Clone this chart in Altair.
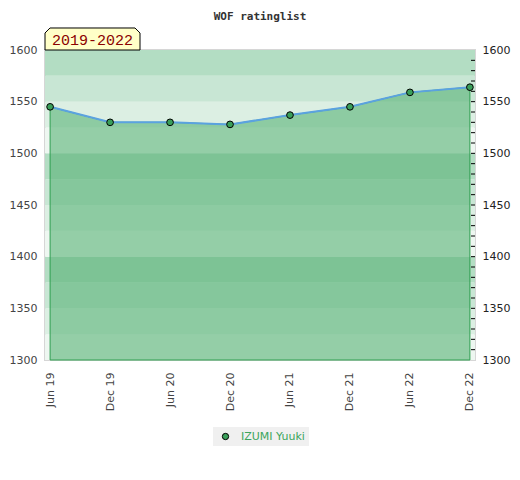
import altair as alt
import pandas as pd

# ---- data ----
periods = ["Jun 19", "Dec 19", "Jun 20", "Dec 20", "Jun 21", "Dec 21", "Jun 22", "Dec 22"]
ratings = [1545, 1530, 1530, 1528, 1537, 1545, 1559, 1564]
player = "IZUMI Yuuki"
title_text = "WOF ratinglist"
span_label = "2019-2022"

band_lo = [1300, 1325, 1350, 1375, 1400, 1425, 1450, 1475, 1500, 1525, 1550, 1575]
band_hi = [1325, 1350, 1375, 1400, 1425, 1450, 1475, 1500, 1525, 1550, 1575, 1600]
band_colors = ["#eef7f1", "#dcefe3", "#c8e6d4", "#b3ddc3",
               "#eef7f1", "#dcefe3", "#c8e6d4", "#b3ddc3",
               "#eef7f1", "#dcefe3", "#c8e6d4", "#b3ddc3"]
y_labels = [1300, 1350, 1400, 1450, 1500, 1550, 1600]
minor_ticks = [1310, 1320, 1330, 1340, 1350, 1360, 1370, 1380, 1390, 1400,
               1410, 1420, 1430, 1440, 1450, 1460, 1470, 1480, 1490, 1500,
               1510, 1520, 1530, 1540, 1550, 1560, 1570, 1580, 1590]

W, H = 430, 310
ydom = [1300, 1600]

df = pd.DataFrame({"period": periods, "rating": ratings, "player": [player] * len(periods)})
bands = pd.DataFrame({"lo": band_lo, "hi": band_hi, "shade": band_colors})
ticks = pd.DataFrame({"v": minor_ticks})
lab = pd.DataFrame({"t": [span_label]})


def yscale():
    return alt.Scale(domain=ydom, nice=False, zero=False)


xscale = alt.Scale(type="point", padding=0.085)
xaxis = alt.Axis(labelAngle=270, ticks=False, tickSize=0, domain=False, grid=False,
                 labelPadding=12, labelColor="#444", labelFont="DejaVu Sans",
                 labelFontSize=11, title=None)


def xenc():
    return alt.X("period:O", sort=periods, scale=xscale, axis=xaxis)


band_layer = alt.Chart(bands).mark_rect().encode(
    x=alt.value(0), x2=alt.value(W),
    y=alt.Y("lo:Q", scale=yscale(),
            axis=alt.Axis(orient="left", values=y_labels, format="d", ticks=False, tickSize=0,
                          domain=False, grid=False, labelPadding=8, labelColor="#444",
                          labelFont="DejaVu Sans", labelFontSize=11, title=None)),
    y2="hi:Q",
    fill=alt.Fill("shade:N", scale=None),
)

area_layer = alt.Chart(df).mark_area(
    fill="#58b277", fillOpacity=0.6, stroke="#2e9e4f", strokeWidth=1
).encode(
    x=xenc(),
    y=alt.Y("rating:Q", scale=yscale(), axis=None),
    y2=alt.datum(1300),
)

line_layer = alt.Chart(df).mark_line(color="#5ba2e0", strokeWidth=2).encode(
    x=xenc(),
    y=alt.Y("rating:Q", scale=yscale(), axis=None),
)

point_layer = alt.Chart(df).mark_circle(size=45, stroke="black", strokeWidth=1, opacity=1).encode(
    x=xenc(),
    y=alt.Y("rating:Q", scale=yscale(), axis=None),
    color=alt.Color("player:N", scale=alt.Scale(range=["#3a9f5a"]),
                    legend=alt.Legend(title=None, orient="none", legendX=168, legendY=377,
                                      fillColor="#f0f0f0", padding=4,
                                      labelFont="DejaVu Sans", labelFontSize=11,
                                      labelColor="#3ca55c", symbolType="circle",
                                      symbolSize=40, symbolStrokeColor="black",
                                      symbolStrokeWidth=1, labelOffset=10, symbolOffset=3)),
)

tick_layer = alt.Chart(ticks).mark_rule(color="black", strokeWidth=1).encode(
    x=alt.value(W - 4), x2=alt.value(W),
    y=alt.Y("v:Q", scale=yscale(),
            axis=alt.Axis(orient="right", values=y_labels, format="d", ticks=False, tickSize=0,
                          domain=False, grid=False, labelPadding=7, labelColor="#222",
                          labelFont="DejaVu Sans", labelFontSize=11, title=None)),
)

box_path = "M-1,0.2316 L-1,-0.126 L-0.895,-0.2316 L0.895,-0.2316 L1,-0.126 L1,0.2316 Z"
box_layer = alt.Chart(lab).mark_point(
    shape=box_path, size=95 * 95, filled=True, fill="#ffffc8", stroke="black",
    strokeWidth=1, opacity=1
).encode(x=alt.value(47.5), y=alt.value(-11))

text_layer = alt.Chart(lab).mark_text(
    font="Liberation Mono", fontSize=15, color="#8b0000", align="center", baseline="middle"
).encode(text="t:N", x=alt.value(47.5), y=alt.value(-10.5))

chart = alt.layer(
    band_layer, area_layer, line_layer, point_layer, tick_layer, box_layer, text_layer
).resolve_scale(y="independent").properties(
    width=W, height=H,
    autosize="none",
    padding={"left": 37, "top": 42, "right": 37, "bottom": 100},
    title=alt.TitleParams(title_text, font="DejaVu Sans Mono", fontSize=11, fontWeight="bold",
                          color="#333", anchor="middle", frame="group", offset=4),
).configure_view(stroke="#d6d6d6", strokeWidth=2)

chart.save("out.html", embed_options={"renderer": "svg", "actions": False})
